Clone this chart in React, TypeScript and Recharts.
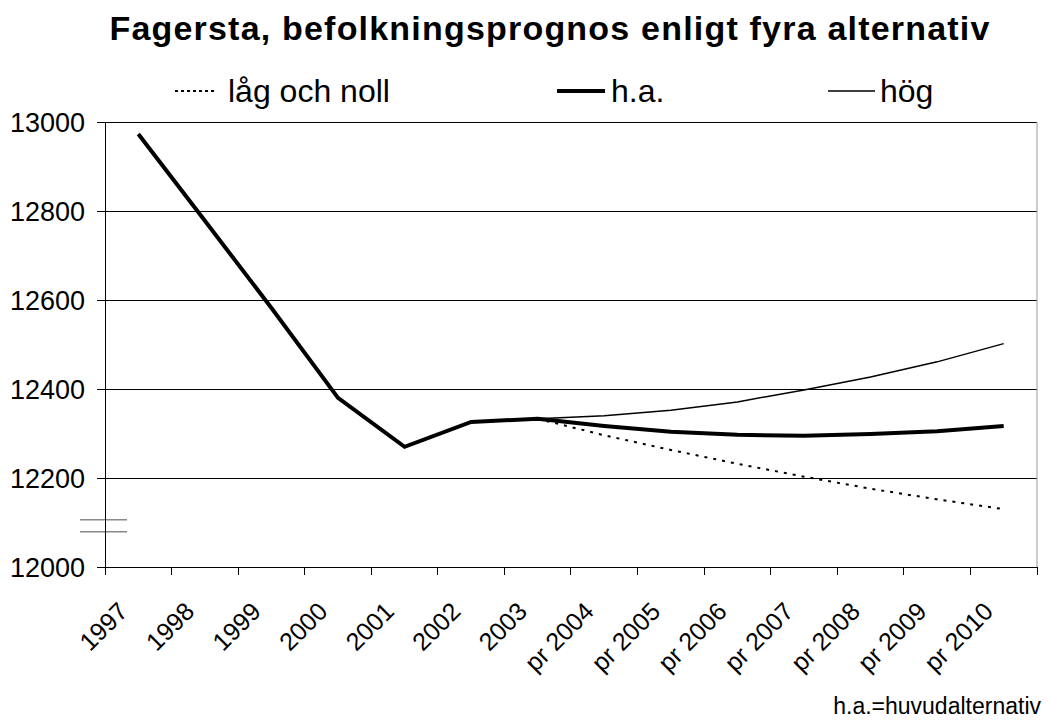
import {
  LineChart,
  Line,
  XAxis,
  YAxis,
  CartesianGrid,
  ReferenceLine,
} from "recharts";

const years = [
  "1997", "1998", "1999", "2000", "2001", "2002", "2003",
  "pr 2004", "pr 2005", "pr 2006", "pr 2007", "pr 2008", "pr 2009", "pr 2010",
];

const haValues = [
  12973, 12778, 12582, 12380, 12270, 12326, 12333,
  12317, 12304, 12297, 12295, 12299, 12305, 12317,
];
const lagValues = [
  null, null, null, null, null, null, 12333,
  12296, 12263, 12232, 12203, 12176, 12152, 12130,
];
const hogValues = [
  null, null, null, null, null, null, 12333,
  12340, 12352, 12371, 12398, 12427, 12461, 12502,
];

const yTicks = [12000, 12200, 12400, 12600, 12800, 13000];
const breakMarks = [12106, 12079];

const data = years.map((year, i) => ({
  year,
  ha: haValues[i],
  lag: lagValues[i],
  hog: hogValues[i],
}));

const FONT = "'Liberation Sans', Arial, sans-serif";
const W = 1050;
const H = 721;
const LEFT = 105;
const RIGHT = 12;
const BAND = (W - LEFT - RIGHT) / years.length;

function XTick(props: any) {
  const { x, y, payload, index } = props;
  return (
    <g>
      <line x1={x - BAND / 2} x2={x - BAND / 2} y1={y} y2={y + 8} stroke="#000" shapeRendering="crispEdges" />
      {index === years.length - 1 && (
        <line x1={x + BAND / 2} x2={x + BAND / 2} y1={y} y2={y + 8} stroke="#000" shapeRendering="crispEdges" />
      )}
      <text
        x={x - 9}
        y={y + 46}
        transform={`rotate(-45 ${x - 9} ${y + 46})`}
        textAnchor="end"
        fontSize={25}
        fontFamily={FONT}
        fill="#000"
      >
        {payload.value}
      </text>
    </g>
  );
}

function LegendRow() {
  const text = (left: number, label: string) => (
    <div style={{ position: "absolute", left, top: 73, fontFamily: FONT, fontSize: 32, lineHeight: "normal" }}>
      {label}
    </div>
  );
  return (
    <>
      <svg style={{ position: "absolute", left: 0, top: 0 }} width={W} height={120}>
        <line x1={175} x2={217} y1={91} y2={91} stroke="#000" strokeWidth={2} strokeDasharray="3 3" />
        <line x1={557} x2={605} y1={91} y2={91} stroke="#000" strokeWidth={4} />
        <line x1={828} x2={875} y1={91} y2={91} stroke="#000" strokeWidth={1.5} />
      </svg>
      {text(228, "låg och noll")}
      {text(611, "h.a.")}
      {text(880, "hög")}
    </>
  );
}

export default function App() {
  return (
    <div style={{ position: "absolute", left: 0, top: 0, width: W, height: H, background: "#fff" }}>
      <div
        style={{
          position: "absolute",
          top: 9,
          left: 25,
          width: W,
          textAlign: "center",
          fontFamily: FONT,
          fontWeight: "bold",
          fontSize: 34,
          letterSpacing: 1.2,
          lineHeight: "normal",
        }}
      >
        Fagersta, befolkningsprognos enligt fyra alternativ
      </div>
      <LegendRow />
      <div style={{ position: "absolute", left: 0, top: 0 }}>
        <LineChart width={W} height={H} data={data} margin={{ top: 122, right: RIGHT, bottom: 0, left: 0 }}>
          <CartesianGrid vertical={false} stroke="#000" strokeWidth={1} shapeRendering="crispEdges" yAxisId="left" />
          <XAxis
            dataKey="year"
            interval={0}
            padding={{ left: BAND / 2, right: BAND / 2 }}
            tickLine={false}
            tickSize={0}
            tickMargin={0}
            height={154}
            axisLine={{ stroke: "#000", shapeRendering: "crispEdges" }}
            tick={<XTick />}
          />
          <YAxis
            yAxisId="left"
            width={LEFT}
            domain={[12000, 13000]}
            ticks={yTicks}
            tickSize={8}
            tickMargin={12}
            tickLine={{ stroke: "#000", shapeRendering: "crispEdges" }}
            axisLine={{ stroke: "#000", shapeRendering: "crispEdges" }}
            tick={{ fill: "#000", fontSize: 27, fontFamily: FONT }}
          />
          <YAxis
            yAxisId="right"
            orientation="right"
            width={1}
            domain={[12000, 13000]}
            tick={false}
            tickLine={false}
            axisLine={{ stroke: "#999" }}
          />
          {breakMarks.map((v) => (
            <ReferenceLine
              key={v}
              yAxisId="left"
              y={v}
              stroke="#888"
              shape={(p: any) => (
                <line x1={p.x1 - 25} x2={p.x1 + 22} y1={p.y1} y2={p.y2} stroke="#888" strokeWidth={1.5} />
              )}
            />
          ))}
          <Line
            yAxisId="left"
            dataKey="lag"
            stroke="#000"
            strokeWidth={2}
            strokeDasharray="3 6"
            dot={false}
            isAnimationActive={false}
          />
          <Line
            yAxisId="left"
            dataKey="hog"
            stroke="#000"
            strokeWidth={1.5}
            dot={false}
            isAnimationActive={false}
          />
          <Line
            yAxisId="left"
            dataKey="ha"
            stroke="#000"
            strokeWidth={4}
            dot={false}
            isAnimationActive={false}
          />
        </LineChart>
      </div>
      <div
        style={{
          position: "absolute",
          right: 9,
          top: 693,
          fontFamily: FONT,
          fontSize: 23,
        }}
      >
        h.a.=huvudalternativ
      </div>
    </div>
  );
}
